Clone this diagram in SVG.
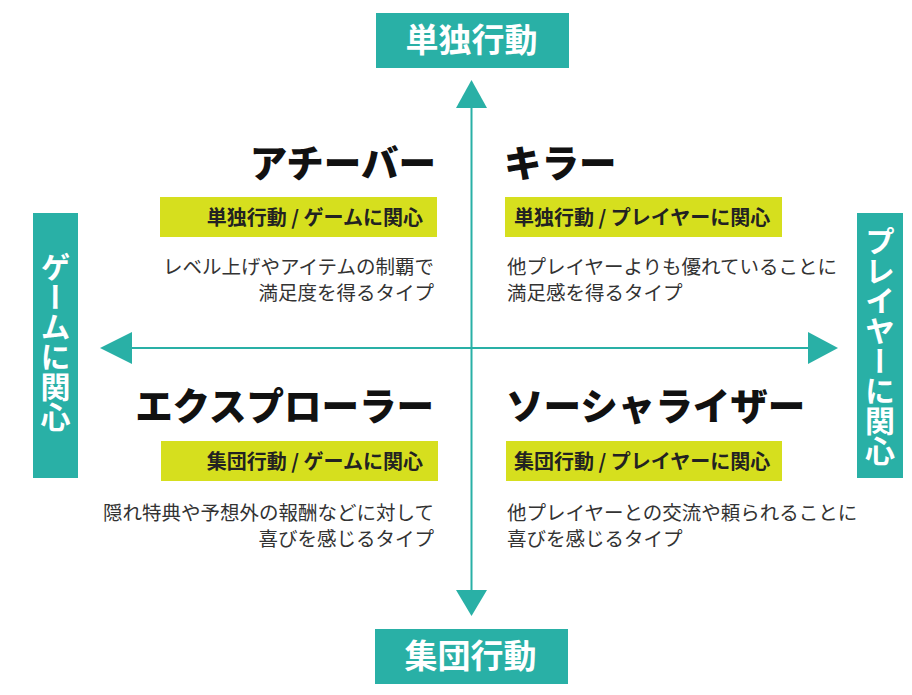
<svg xmlns="http://www.w3.org/2000/svg" width="912" height="695" viewBox="0 0 912 695">
<style>
.teal{fill:#29B0A6}
.yel{fill:#D6DF1E}
.axis{stroke:#29B0A6;stroke-width:2;fill:none}
.ax{font-family:"Noto Sans CJK JP","Noto Sans CJK SC",sans-serif;font-weight:700;fill:#fff;font-size:33px}
.vt{font-family:"Noto Sans CJK JP","Noto Sans CJK SC",sans-serif;font-weight:700;fill:#fff;font-size:30px;writing-mode:vertical-rl}
.title{font-family:"Noto Sans CJK JP","Noto Sans CJK SC",sans-serif;font-weight:900;fill:#111;font-size:37.5px}
.lab{font-family:"Noto Sans CJK JP","Noto Sans CJK SC",sans-serif;font-weight:700;fill:#222;font-size:20px}
.desc{font-family:"Noto Sans CJK JP","Noto Sans CJK SC",sans-serif;font-weight:400;fill:#333;font-size:19.5px}
</style>
<rect width="912" height="695" fill="#fff"/>
<g id="connectors">
<line class="axis" x1="471.5" y1="106" x2="471.5" y2="592"/>
<polygon class="teal" points="471.5,80 456,108 487,108"/>
<polygon class="teal" points="471.5,616 456,590 487,590"/>
<line class="axis" x1="130" y1="348" x2="810" y2="348"/>
<polygon class="teal" points="100,348 132,332 132,364"/>
<polygon class="teal" points="838,348 808,332 808,364"/>
</g>
<g id="top">
<rect class="teal" x="376" y="13" width="193" height="55"/>
<text class="ax" x="471.5" y="52" text-anchor="middle">単独行動</text>
</g>
<g id="bottom">
<rect class="teal" x="375" y="629" width="193" height="55"/>
<text class="ax" x="470.5" y="668" text-anchor="middle">集団行動</text>
</g>
<g id="left">
<rect class="teal" x="33" y="213" width="45" height="265"/>
<text class="vt" x="55.5" y="342" text-anchor="middle">ゲームに関心</text>
</g>
<g id="right">
<rect class="teal" x="857" y="213" width="46" height="265"/>
<text class="vt" x="880" y="346" text-anchor="middle">プレイヤーに関心</text>
</g>
<g id="achiever">
<text class="title" x="436" y="177" text-anchor="end">アチーバー</text>
<rect class="yel" x="160" y="197" width="277" height="40"/>
<text class="lab" x="423" y="225" text-anchor="end">単独行動 / ゲームに関心</text>
<text class="desc" x="434" y="274" text-anchor="end">レベル上げやアイテムの制覇で</text>
<text class="desc" x="434" y="300" text-anchor="end">満足度を得るタイプ</text>
</g>
<g id="killer">
<text class="title" x="504" y="177">キラー</text>
<rect class="yel" x="505" y="197" width="277" height="40"/>
<text class="lab" x="514" y="225">単独行動 / プレイヤーに関心</text>
<text class="desc" x="507" y="274">他プレイヤーよりも優れていることに</text>
<text class="desc" x="507" y="300">満足感を得るタイプ</text>
</g>
<g id="explorer">
<text class="title" x="434" y="420" text-anchor="end">エクスプローラー</text>
<rect class="yel" x="161" y="441" width="277" height="40"/>
<text class="lab" x="423" y="469" text-anchor="end">集団行動 / ゲームに関心</text>
<text class="desc" x="434" y="520" text-anchor="end">隠れ特典や予想外の報酬などに対して</text>
<text class="desc" x="434" y="546" text-anchor="end">喜びを感じるタイプ</text>
</g>
<g id="socializer">
<text class="title" x="506" y="420">ソーシャライザー</text>
<rect class="yel" x="506" y="441" width="276" height="40"/>
<text class="lab" x="514" y="469">集団行動 / プレイヤーに関心</text>
<text class="desc" x="507" y="520">他プレイヤーとの交流や頼られることに</text>
<text class="desc" x="507" y="546">喜びを感じるタイプ</text>
</g>
</svg>
